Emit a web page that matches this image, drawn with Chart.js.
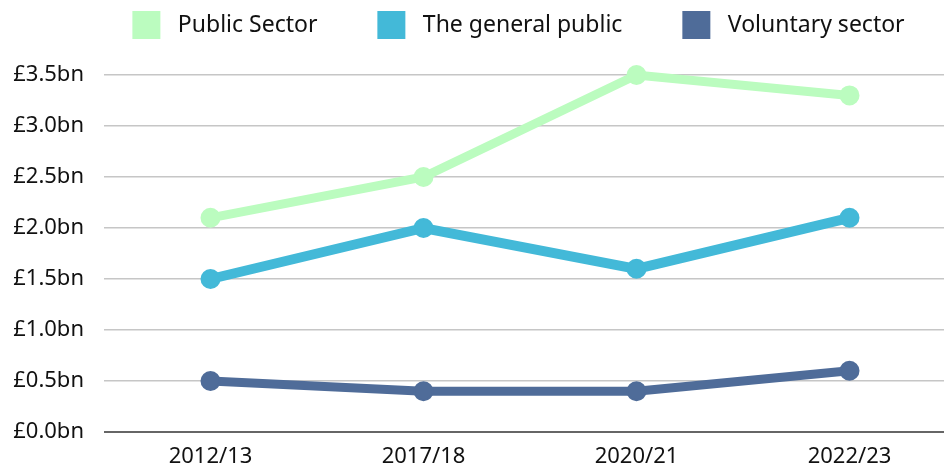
<!DOCTYPE html>
<html>
<head>
<meta charset="utf-8">
<script src="https://cdn.jsdelivr.net/npm/chart.js@4.4.0/dist/chart.umd.min.js"></script>
<style>
  html, body { margin: 0; padding: 0; background: #fff; overflow: hidden; }
</style>
</head>
<body>
<canvas id="lineChart" width="956" height="470"></canvas>
<script>
// Chart data
const years = ['2012/13', '2017/18', '2020/21', '2022/23'];
const publicSector = [2.1, 2.5, 3.5, 3.3];
const generalPublic = [1.5, 2.0, 1.6, 2.1];
const voluntarySector = [0.5, 0.4, 0.4, 0.6];
const yTicks = [0, 0.5, 1.0, 1.5, 2.0, 2.5, 3.0, 3.5];

const FONT = "'Noto Sans', sans-serif";

function series(label, data, color, width) {
  return {
    label: label,
    data: data,
    borderColor: color,
    backgroundColor: color,
    pointBackgroundColor: color,
    pointBorderColor: color,
    borderWidth: width,
    pointRadius: 9,
    pointBorderWidth: 2,
    pointHoverRadius: 9,
    tension: 0,
    clip: false
  };
}

// push the plot down below the legend
const legendGap = {
  id: 'legendGap',
  beforeInit(chart) {
    const fit = chart.legend.fit;
    chart.legend.fit = function () {
      fit.bind(chart.legend)();
      this.height += 26;
    };
  }
};

const ctx = document.getElementById('lineChart');
new Chart(ctx, {
  type: 'line',
  data: {
    labels: years,
    datasets: [
      series('Public Sector', publicSector, '#bbfcbf', 9),
      series('The general public', generalPublic, '#43b9d8', 10),
      series('Voluntary sector', voluntarySector, '#4f6c99', 9)
    ]
  },
  plugins: [legendGap],
  options: {
    responsive: false,
    animation: false,
    layout: { autoPadding: false, padding: { top: 3, right: 0, left: 0, bottom: 0 } },
    plugins: {
      legend: {
        display: true,
        position: 'top',
        fullSize: false,
        labels: {
          boxWidth: 28,
          boxHeight: 28,
          padding: 8,
          color: '#111',
          font: { family: FONT, size: 23 },
          generateLabels: chart => {
            const items = Chart.defaults.plugins.legend.labels.generateLabels(chart);
            items.forEach((it, i) => {
              it.lineWidth = 0;
              it.text = ' ' + it.text + (i < items.length - 1 ? '\u2003\u2003 ' : '\u2003');
            });
            return items;
          }
        }
      },
      tooltip: { enabled: false }
    },
    scales: {
      x: {
        offset: true,
        afterFit: axis => { axis.height = 38; },
        grid: { display: false, drawTicks: false },
        border: { display: false },
        ticks: { color: '#111', font: { family: FONT, size: 22 }, padding: 12 }
      },
      y: {
        min: 0,
        max: 3.5,
        afterFit: axis => { axis.width = 104; },
        afterBuildTicks: axis => { axis.ticks = yTicks.map(v => ({ value: v })); },
        grid: {
          color: ctx => ctx.tick && ctx.tick.value === 0 ? '#666' : '#c6c6c6',
          lineWidth: ctx => ctx.tick && ctx.tick.value === 0 ? 2 : 1.5,
          drawTicks: false
        },
        border: { display: false },
        ticks: {
          color: '#111',
          padding: 20,
          font: { family: FONT, size: 22 },
          callback: v => '£' + Number(v).toFixed(1) + 'bn'
        }
      }
    }
  }
});
</script>
</body>
</html>
